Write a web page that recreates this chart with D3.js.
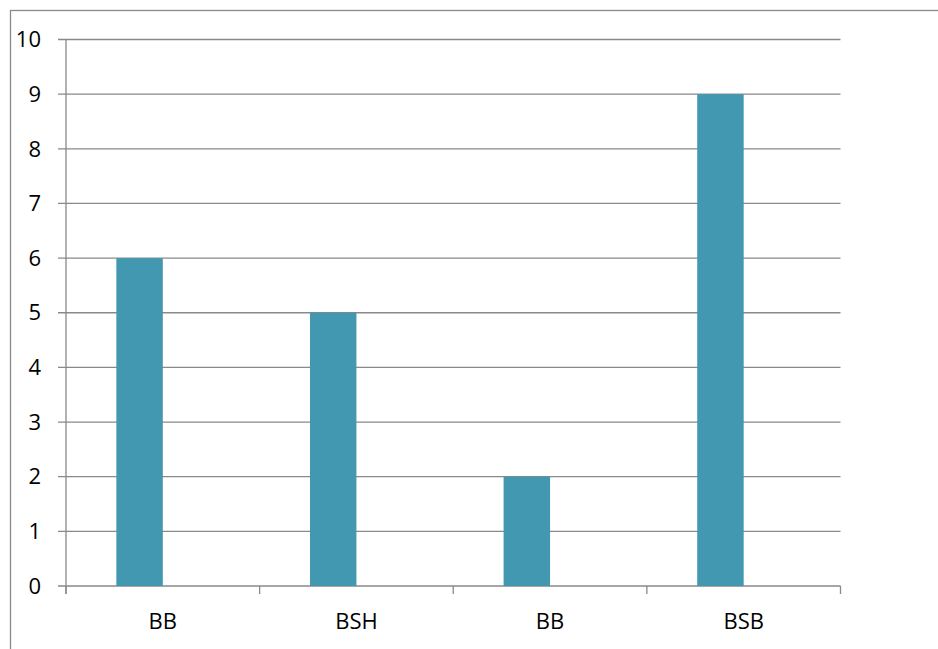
<!DOCTYPE html>
<html>
<head>
<meta charset="utf-8">
<style>
  body { margin: 0; background: #fff; }
  text { font-family: "Open Sans", sans-serif; fill: #000; }
</style>
</head>
<body>
<div id="chart"></div>
<script src="https://d3js.org/d3.v7.min.js"></script>
<script>
  // categories and values
  const categories = ["BB", "BSH", "BB", "BSB"];
  const seriesNames = ["Series1", "Series2"];
  const series1 = [6, 5, 2, 9];
  const series2 = [null, null, null, null]; // empty second series, keeps bars left of centre
  const yTicks = [0, 1, 2, 3, 4, 5, 6, 7, 8, 9, 10];

  const W = 938, H = 649;
  const margin = { top: 39.5, right: 97.5, bottom: 63, left: 66 };
  const width = W - margin.left - margin.right,
        height = H - margin.top - margin.bottom;

  const svg = d3.select("#chart").append("svg")
    .attr("width", W)
    .attr("height", H);

  // outer chart border (runs off the right and bottom edges)
  svg.append("rect")
    .attr("x", 10.5).attr("y", 10.5)
    .attr("width", W + 20).attr("height", H + 20)
    .attr("fill", "none")
    .attr("stroke", "#8a8a8a")
    .attr("stroke-width", 1.3);

  const g = svg.append("g")
    .attr("transform", `translate(${margin.left},${margin.top})`);

  const x0 = d3.scaleBand().domain(d3.range(categories.length)).range([0, width]);
  const gap = x0.bandwidth() * 0.52;
  const x1 = d3.scaleBand().domain(seriesNames).range([gap / 2, x0.bandwidth() - gap / 2]);
  const y = d3.scaleLinear().domain([0, 10]).range([height, 0]);

  const grey = "#898989";

  // gridlines with left tick
  g.append("g")
    .selectAll("line")
    .data(yTicks)
    .join("line")
    .attr("x1", -8).attr("x2", width)
    .attr("y1", d => y(d)).attr("y2", d => y(d))
    .attr("stroke", grey)
    .attr("stroke-width", 1.3);

  // y axis line
  g.append("line")
    .attr("x1", 0).attr("x2", 0)
    .attr("y1", 0).attr("y2", height + 8)
    .attr("stroke", grey).attr("stroke-width", 1.3);

  // x ticks at category boundaries
  g.append("g")
    .selectAll("line")
    .data(d3.range(categories.length + 1))
    .join("line")
    .attr("x1", i => i * x0.step()).attr("x2", i => i * x0.step())
    .attr("y1", height).attr("y2", height + 8)
    .attr("stroke", grey).attr("stroke-width", 1.3);

  // y tick labels
  g.append("g")
    .selectAll("text")
    .data(yTicks)
    .join("text")
    .attr("x", -25)
    .attr("y", d => y(d))
    .attr("dy", "0.35em")
    .attr("text-anchor", "end")
    .attr("font-size", 22)
    .text(d => d);

  // category labels
  g.append("g")
    .selectAll("text")
    .data(categories)
    .join("text")
    .attr("x", (d, i) => x0(i) + x0.bandwidth() / 2)
    .attr("y", height + 43)
    .attr("text-anchor", "middle")
    .attr("font-size", 22)
    .text(d => d);

  // bars
  const allSeries = [series1, series2];
  allSeries.forEach((vals, s) => {
    g.append("g")
      .selectAll("rect")
      .data(vals.map((v, i) => ({ i, v })).filter(d => d.v != null))
      .join("rect")
      .attr("x", d => x0(d.i) + x1(seriesNames[s]))
      .attr("y", d => y(d.v))
      .attr("width", x1.bandwidth())
      .attr("height", d => y(0) - y(d.v))
      .attr("fill", "#4298b0");
  });
</script>
</body>
</html>
